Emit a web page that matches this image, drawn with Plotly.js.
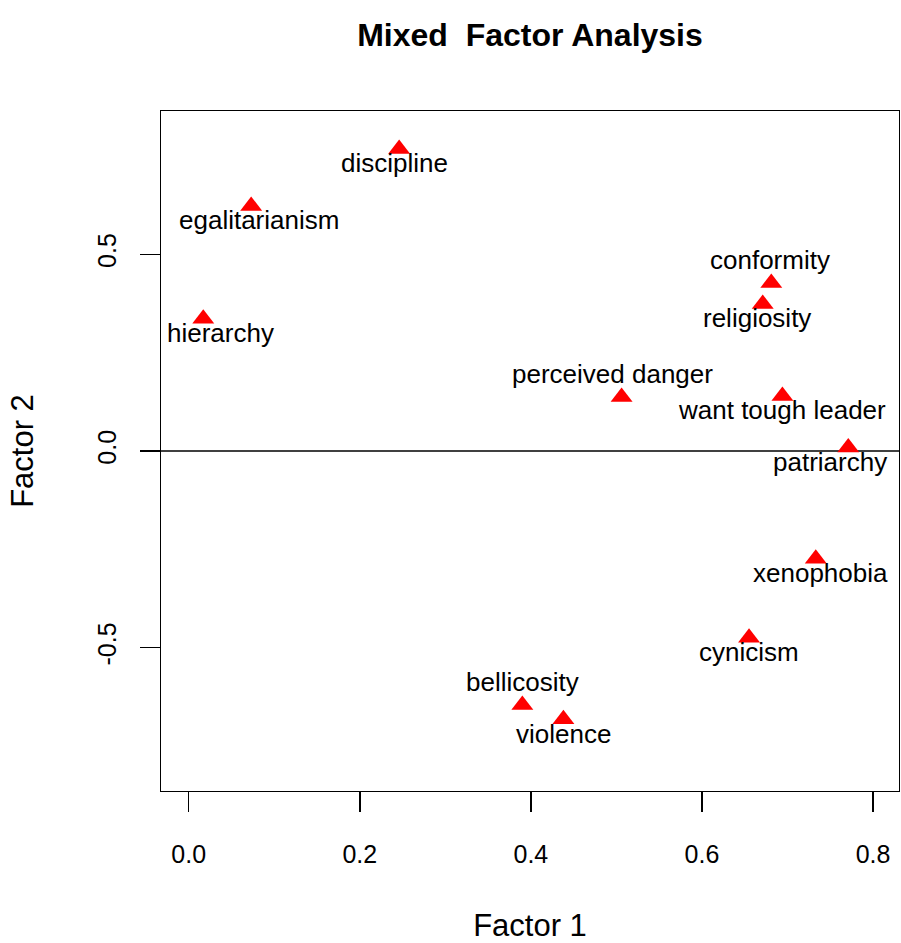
<!DOCTYPE html>
<html>
<head>
<meta charset="utf-8">
<script src="https://cdn.plot.ly/plotly-3.0.1.min.js"></script>
<style>html,body{margin:0;padding:0;background:#fff;}#chart{width:901px;height:943px;}</style>
</head>
<body>
<div id="chart"></div>
<script>
// ---- data ----
const variables = ["discipline", "egalitarianism", "hierarchy", "conformity", "religiosity",
  "perceived danger", "want tough leader", "patriarchy", "xenophobia", "cynicism",
  "bellicosity", "violence"];
const factor1 = [0.246, 0.073, 0.017, 0.681, 0.671, 0.506, 0.694, 0.771, 0.733, 0.655, 0.390, 0.438];
const factor2 = [0.768, 0.623, 0.336, 0.427, 0.374, 0.137, 0.140, 0.009, -0.274, -0.475, -0.646, -0.682];
const labelSide = ["below", "below", "below", "above", "below", "above", "below", "below",
  "below", "below", "above", "below"];
const labelNudge = [-5, 8, 17, -1, -6, -9, 0, -18, 5, 0, 0, 0];
const xTicks = [0, 0.2, 0.4, 0.6, 0.8];
const xTickText = ["0.0", "0.2", "0.4", "0.6", "0.8"];
const yTicks = [-0.5, 0, 0.5];
const yTickText = ["-0.5", "0.0", "0.5"];

const FONT = "Liberation Sans, Arial, Helvetica, sans-serif";

const trace = {
  type: "scatter",
  mode: "markers",
  x: factor1,
  y: factor2,
  marker: {symbol: "triangle-up", size: 19, color: "#ff0000", line: {width: 0}},
  hoverinfo: "text",
  text: variables,
  showlegend: false
};

const annotations = variables.map((v, i) => ({
  x: factor1[i], y: factor2[i], xref: "x", yref: "y",
  text: v, showarrow: false,
  xanchor: "center", yanchor: "middle",
  xshift: labelNudge[i],
  yshift: labelSide[i] === "above" ? 23 : -14.5,
  font: {family: FONT, size: 26, color: "#000"}
}));

const layout = {
  width: 901, height: 943,
  paper_bgcolor: "#fff", plot_bgcolor: "#fff",
  margin: {l: 161, r: 2, t: 111, b: 152},
  font: {family: FONT, color: "#000"},
  title: {
    text: "<b>Mixed\u00a0 Factor Analysis</b>",
    font: {family: FONT, size: 32, color: "#000"},
    x: 0.5, xref: "paper", y: 1 - 34.5 / 943, yref: "container", yanchor: "middle"
  },
  xaxis: {
    range: [-0.0324, 0.8303],
    tickvals: xTicks, ticktext: xTickText,
    ticks: "outside", ticklen: 20, tickwidth: 1.4, tickcolor: "#000",
    tickfont: {family: FONT, size: 25, color: "#000"},
    ticklabelstandoff: 21,
    showline: true, mirror: true, linecolor: "#000", linewidth: 1.4,
    showgrid: false, zeroline: false,
    title: {text: "Factor 1", font: {family: FONT, size: 31, color: "#000"}, standoff: 54}
  },
  yaxis: {
    range: [-0.8643, 0.8643],
    tickvals: yTicks, ticktext: yTickText, tickangle: -90,
    ticks: "outside", ticklen: 20, tickwidth: 1.4, tickcolor: "#000",
    tickfont: {family: FONT, size: 25, color: "#000"},
    ticklabelstandoff: 14,
    showline: true, mirror: true, linecolor: "#000", linewidth: 1.4,
    showgrid: false, zeroline: false,
    title: {text: "Factor 2", font: {family: FONT, size: 31, color: "#000"}, standoff: 49}
  },
  shapes: [{
    type: "line", xref: "paper", x0: 0, x1: 1, yref: "y", y0: 0, y1: 0,
    line: {color: "#000", width: 1.3}, layer: "below"
  }],
  annotations: annotations
};

Plotly.newPlot("chart", [trace], layout, {displayModeBar: false, staticPlot: true});
</script>
</body>
</html>
